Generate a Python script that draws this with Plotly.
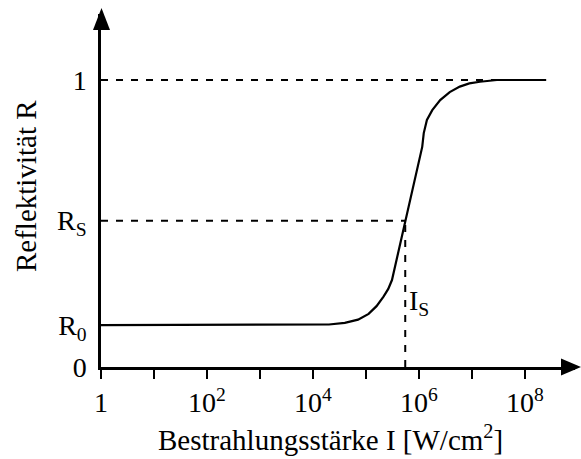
import plotly.graph_objects as go

W, H = 581, 459

# Data
intensity = [1, 1e4, 2.0e4, 3.98e4, 7.08e4, 1.12e5, 1.58e5, 2.14e5, 2.63e5, 3.09e5,
             1.15e6, 1.23e6, 1.41e6, 1.78e6, 2.51e6, 3.80e6, 5.89e6, 8.91e6, 1.41e7,
             2.95e7, 2.51e8]
reflectivity = [0.146, 0.146, 0.148, 0.154, 0.165, 0.185, 0.212, 0.245, 0.272, 0.303,
                0.767, 0.815, 0.861, 0.895, 0.930, 0.958, 0.977, 0.988, 0.994,
                1.0, 1.0]
R0 = 0.146
RS = 0.51
IS = 5.5e5
R_max_x = 2.95e7

x_tickvals = [1, 1e1, 1e2, 1e3, 1e4, 1e5, 1e6, 1e7, 1e8]
x_ticktext = ["1", "", "10<sup>2</sup>", "", "10<sup>4</sup>", "", "10<sup>6</sup>", "", "10<sup>8</sup>"]
y_tickvals = [0, R0, RS, 1]
y_ticktext = ["0", "R<sub>0</sub>", "R<sub>S</sub>", "1"]

FONT = "Liberation Serif"

# layout geometry (pixels)
x0px, y0px = 101, 367
xendpx, ytoppx = 575, 14
dec_px = 53.0
unit_px = 287.0

fig = go.Figure()

dash_style = dict(color="black", width=2, dash="7px,8px")
fig.add_trace(go.Scatter(x=[1, R_max_x], y=[1, 1], mode="lines", line=dash_style, hoverinfo="skip"))
fig.add_trace(go.Scatter(x=[1, IS], y=[RS, RS], mode="lines", line=dash_style, hoverinfo="skip"))
fig.add_trace(go.Scatter(x=[IS, IS], y=[0, RS], mode="lines", line=dash_style, hoverinfo="skip"))

fig.add_trace(go.Scatter(x=intensity, y=reflectivity, mode="lines",
                         line=dict(color="black", width=2.2), hoverinfo="skip"))

def px(x):
    return x / W

def py(y):
    return 1 - y / H

# arrowheads
fig.add_shape(type="path", xref="paper", yref="paper",
              path=f"M {px(581)} {py(367)} L {px(561)} {py(358.5)} L {px(561)} {py(375.5)} Z",
              fillcolor="black", line=dict(width=0))
fig.add_shape(type="path", xref="paper", yref="paper",
              path=f"M {px(101.5)} {py(8)} L {px(93)} {py(30)} L {px(110)} {py(30)} Z",
              fillcolor="black", line=dict(width=0))

fig.add_annotation(x=5.74, y=0.225, xref="x", yref="y", text="I<sub>S</sub>",
                   showarrow=False, xanchor="left", yanchor="middle", xshift=2,
                   font=dict(family=FONT, size=28, color="black"))

fig.add_annotation(x=px(330), y=0, xref="paper", yref="paper",
                   text="Bestrahlungsstärke I [W/cm<sup>2</sup>]", showarrow=False,
                   xanchor="center", yanchor="bottom", yshift=1,
                   font=dict(family=FONT, size=29, color="black"))
fig.add_annotation(x=px(26), y=py(186), xref="paper", yref="paper",
                   text="Reflektivität R", showarrow=False, textangle=-90,
                   xanchor="center", yanchor="middle",
                   font=dict(family=FONT, size=29, color="black"))

fig.update_layout(
    width=W, height=H,
    margin=dict(l=0, r=0, t=0, b=0),
    paper_bgcolor="white", plot_bgcolor="white",
    showlegend=False,
    xaxis=dict(type="log", domain=[x0px / W, xendpx / W],
               range=[0, (xendpx - x0px) / dec_px],
               tickvals=x_tickvals, ticktext=x_ticktext,
               ticks="outside", ticklen=9, tickwidth=2, tickcolor="black",
               showline=True, linecolor="black", linewidth=2.5,
               showgrid=False, zeroline=False, automargin=False,
               tickfont=dict(family=FONT, size=28, color="black")),
    yaxis=dict(domain=[(H - y0px) / H, 1 - ytoppx / H],
               range=[0, (y0px - ytoppx) / unit_px],
               tickvals=y_tickvals, ticktext=y_ticktext,
               ticks="outside", ticklen=6, tickcolor="rgba(0,0,0,0)",
               showline=True, linecolor="black", linewidth=2.5,
               showgrid=False, zeroline=False, automargin=False,
               tickfont=dict(family=FONT, size=28, color="black")),
)

fig.write_html("out.html")
